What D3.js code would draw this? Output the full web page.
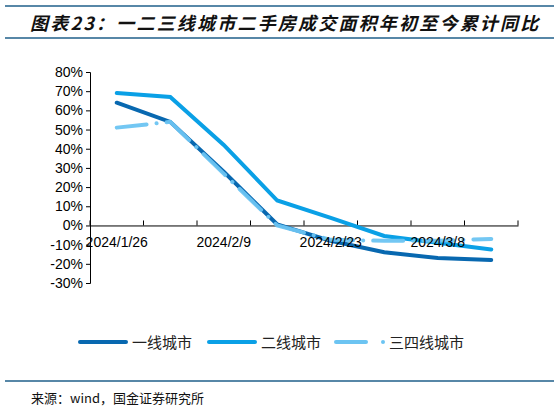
<!DOCTYPE html>
<html><head><meta charset="utf-8">
<script src="https://cdn.jsdelivr.net/npm/d3@7"></script>
<style>body{margin:0;background:#fff}</style></head>
<body><svg id="c" width="559" height="411"></svg>
<script>
const categories=["2024/1/26","2024/2/2","2024/2/9","2024/2/16","2024/2/23","2024/3/1","2024/3/8","2024/3/15"];
const tier1=[64,54,28,0.5,-8,-14,-17,-18];
const tier2=[69,67,42,13,4,-5.5,-9,-12.5];
const tier34=[51,54,27,0,-7.5,-8,-8,-7];
const yTicks=[80,70,60,50,40,30,20,10,0,-10,-20,-30];
const names=["一线城市","二线城市","三四线城市"];
const colors=["#0868b0","#0aa0e6","#6cc4f2"];
const svg=d3.select("#c");
const f="Liberation Sans, Arial, sans-serif";
svg.append("line").attr("x1",5).attr("x2",554).attr("y1",6).attr("y2",6).attr("stroke","#1f5f8a").attr("stroke-width",1.5);
svg.append("line").attr("x1",5).attr("x2",554).attr("y1",38).attr("y2",38).attr("stroke","#1f5f8a").attr("stroke-width",1.5);
svg.append("text").attr("x",30).attr("y",30).attr("font-family","Noto Sans CJK SC").attr("font-size",18).attr("letter-spacing",2.2).attr("font-weight","bold").attr("font-style","italic").attr("fill","#111").text("图表23：一二三线城市二手房成交面积年初至今累计同比");
const x=d3.scaleBand().domain(categories).range([90,518]);
const y=d3.scaleLinear().domain([-30,80]).range([283,72]);
svg.append("g").attr("transform","translate(90,0)").call(d3.axisLeft(y).tickValues(yTicks).tickFormat(d=>d+"%").tickSize(4))
 .call(g=>{g.selectAll("text").attr("font-family",f).attr("font-size",14).attr("fill","#000");g.selectAll("line,path").attr("stroke","#000");});
const xa=svg.append("g").attr("transform",`translate(0,${y(0)})`).call(d3.axisBottom(x).tickValues([]).tickSizeOuter(0));
xa.select("path").attr("stroke","#000");
const bounds=d3.range(categories.length+1).map(i=>90+i*x.step());
xa.selectAll(".tk").data(bounds).join("line").attr("x1",d=>d).attr("x2",d=>d).attr("y1",0).attr("y2",-5).attr("stroke","#000");
const line=d3.line().x((d,i)=>x(categories[i])+x.bandwidth()/2).y(d=>y(d));
[tier1,tier2].forEach((s,k)=>svg.append("path").attr("d",line(s)).attr("fill","none").attr("stroke",colors[k]).attr("stroke-width",4).attr("stroke-linecap","round"));
svg.append("path").attr("d",line(tier34)).attr("fill","none").attr("stroke",colors[2]).attr("stroke-width",4).attr("stroke-linecap","round").attr("stroke-dasharray","30,10,0.1,10").attr("opacity",0.95);
categories.forEach((c,i)=>{if(i%2==0)svg.append("text").attr("x",x(c)+x.bandwidth()/2).attr("y",y(0)+22).attr("text-anchor","middle").attr("font-family",f).attr("font-size",14).text(c);});
const lg=[{x:78,tx:132},{x:207,tx:261},{x:334,tx:389}];
lg.forEach((l,k)=>{
 if(k<2)svg.append("line").attr("x1",l.x+2).attr("x2",l.x+48).attr("y1",342).attr("y2",342).attr("stroke",colors[k]).attr("stroke-width",4).attr("stroke-linecap","round");
 else{svg.append("line").attr("x1",l.x+2).attr("x2",l.x+32).attr("y1",342).attr("y2",342).attr("stroke",colors[k]).attr("stroke-width",4).attr("stroke-linecap","round");
 svg.append("circle").attr("cx",383).attr("cy",342).attr("r",2).attr("fill",colors[k]);}
 svg.append("text").attr("x",l.tx).attr("y",348).attr("font-family","Noto Sans CJK SC").attr("font-size",15).attr("fill","#222").text(names[k]);
});
svg.append("line").attr("x1",5).attr("x2",554).attr("y1",381).attr("y2",381).attr("stroke","#1f5f8a").attr("stroke-width",1.5);
svg.append("text").attr("x",31).attr("y",403).attr("font-family","Noto Sans CJK SC").attr("font-size",13).attr("fill","#111").text("来源：wind，国金证券研究所");
</script></body></html>
